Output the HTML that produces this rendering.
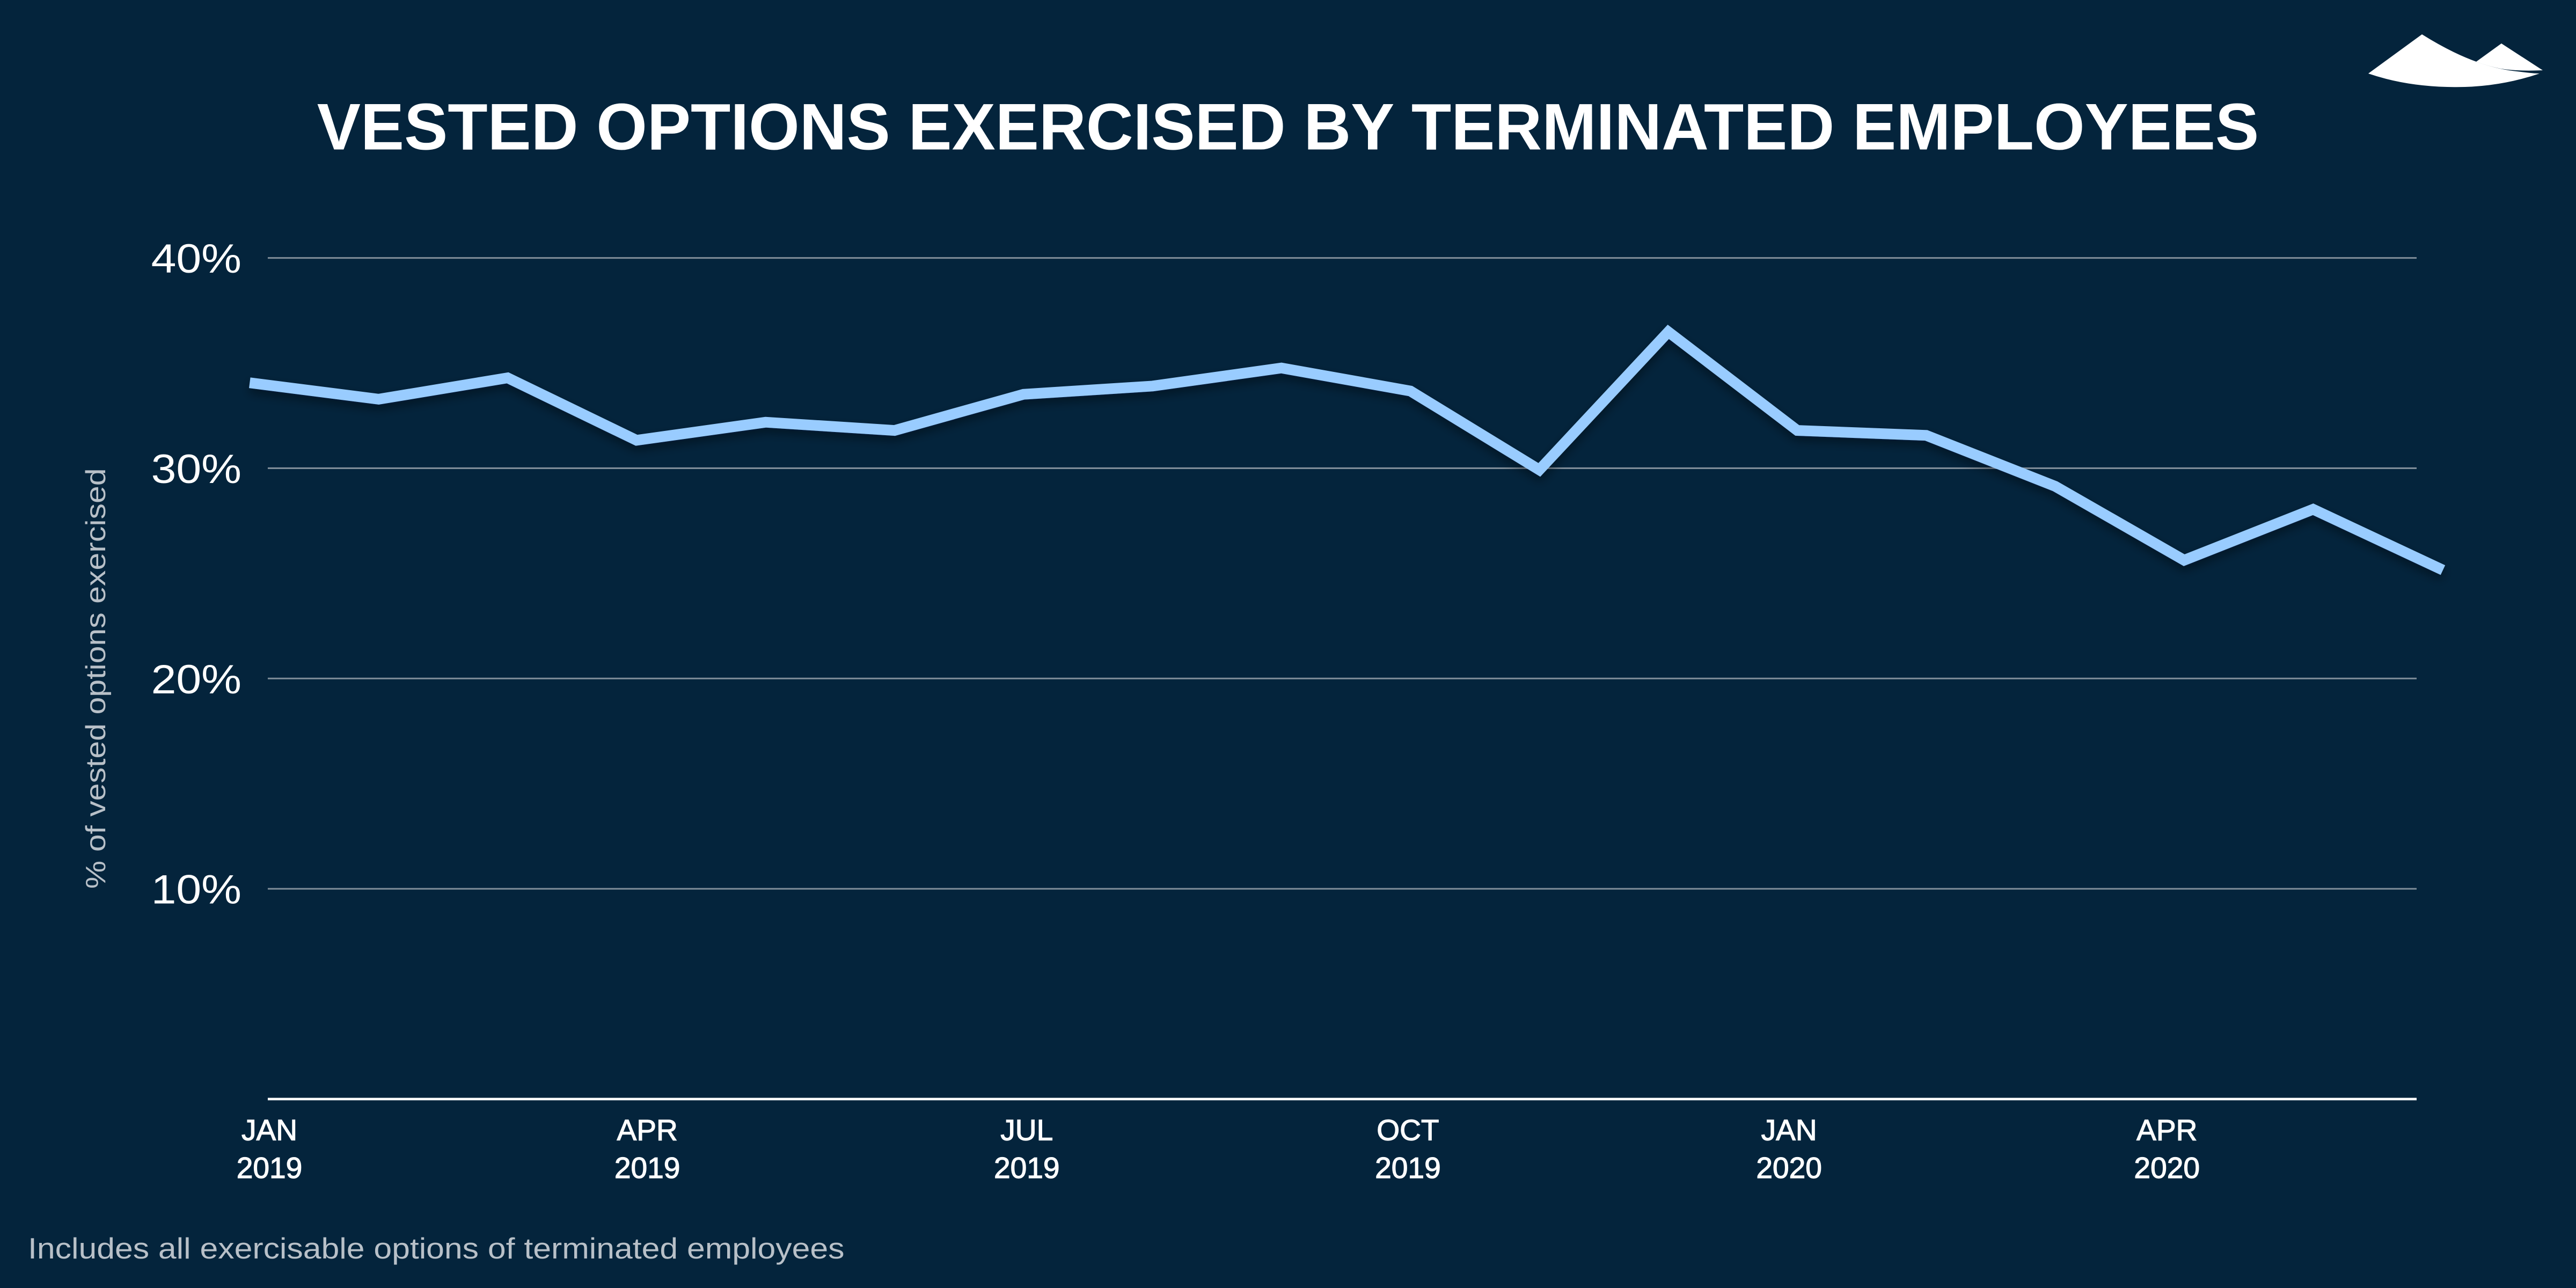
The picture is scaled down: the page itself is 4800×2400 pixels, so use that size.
<!DOCTYPE html>
<html><head><meta charset="utf-8"><style>
html,body{margin:0;padding:0;background:#04243c;}
svg{display:block;}
</style></head><body>
<svg width="4800" height="2400" viewBox="0 0 4800 2400" xmlns="http://www.w3.org/2000/svg">
<defs>
<filter id="sh" x="-5%" y="-20%" width="110%" height="140%">
<feGaussianBlur in="SourceAlpha" stdDeviation="3"/>
<feOffset dx="0" dy="3" result="b"/>
<feFlood flood-color="#000814" flood-opacity="0.4"/>
<feComposite in2="b" operator="in"/>
<feMerge><feMergeNode/><feMergeNode in="SourceGraphic"/></feMerge>
</filter>
</defs>
<rect width="4800" height="2400" fill="#04243c"/>
<path d="M4413,137 L4513,64 Q4610,125 4690,133 Q4720,137 4732,137 Q4650,165 4560,162 Q4480,160 4413,137 Z" fill="#fff"/>
<path d="M4614,115 L4661,81 L4738,131 Q4690,133 4660,128 Q4635,123 4614,115 Z" fill="#fff"/>
<g transform="scale(3.0612)">
<text x="784" y="91" text-anchor="middle" font-family="Liberation Sans, sans-serif" font-weight="bold" font-size="40" fill="#fff" textLength="1182" lengthAdjust="spacingAndGlyphs">VESTED OPTIONS EXERCISED BY TERMINATED EMPLOYEES</text>
<g stroke="#7f8d99" stroke-width="1">
<line x1="163" y1="157" x2="1471" y2="157"/>
<line x1="163" y1="285" x2="1471" y2="285"/>
<line x1="163" y1="413" x2="1471" y2="413"/>
<line x1="163" y1="541" x2="1471" y2="541"/>
</g>
<line x1="163" y1="669" x2="1471" y2="669" stroke="#fff" stroke-width="1.5"/>
<g font-family="Liberation Sans, sans-serif" font-size="25" fill="#fff" text-anchor="end">
<text x="147" y="166" textLength="55" lengthAdjust="spacingAndGlyphs">40%</text>
<text x="147" y="294" textLength="55" lengthAdjust="spacingAndGlyphs">30%</text>
<text x="147" y="422" textLength="55" lengthAdjust="spacingAndGlyphs">20%</text>
<text x="147" y="550" textLength="55" lengthAdjust="spacingAndGlyphs">10%</text>
</g>
<text transform="translate(64,413) rotate(-90)" text-anchor="middle" font-family="Liberation Sans, sans-serif" font-size="17" fill="#b8c0c8" textLength="256" lengthAdjust="spacingAndGlyphs">% of vested options exercised</text>
<g font-family="Liberation Sans, sans-serif" font-size="18" fill="#fff" stroke="#fff" stroke-width="0.4" text-anchor="middle">
<text x="164" y="694">JAN</text><text x="164" y="717">2019</text>
<text x="394" y="694">APR</text><text x="394" y="717">2019</text>
<text x="625" y="694">JUL</text><text x="625" y="717">2019</text>
<text x="857" y="694">OCT</text><text x="857" y="717">2019</text>
<text x="1089" y="694">JAN</text><text x="1089" y="717">2020</text>
<text x="1319" y="694">APR</text><text x="1319" y="717">2020</text>
</g>
<text x="17" y="766" font-family="Liberation Sans, sans-serif" font-size="18" fill="#b8c0c8" textLength="497" lengthAdjust="spacingAndGlyphs">Includes all exercisable options of terminated employees</text>
<polyline filter="url(#sh)" fill="none" stroke="#99ccff" stroke-width="6.5" stroke-linejoin="miter"
points="152,233 230.5,243 309,230 387.5,268 466,257 544.5,262 623,240 701.5,235 780,224 858.5,238 937,286 1015.5,202 1094,262 1172.5,265 1251,296 1329.5,341 1408,310 1487,347"/>
</g>
</svg>
</body></html>
